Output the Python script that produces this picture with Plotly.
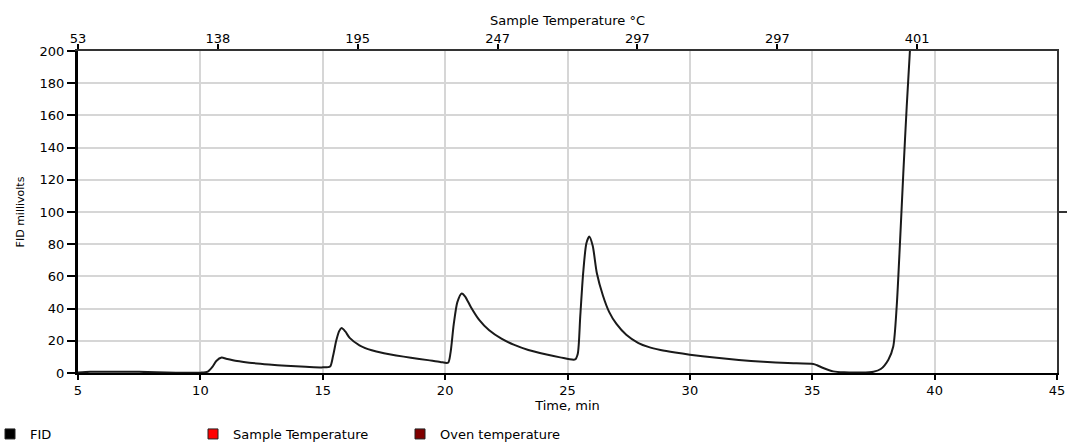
import plotly.graph_objects as go

# FID trace (time in min, signal in millivolts)
time_min = [5.0, 5.5, 6.5, 7.5, 8.2, 9.0, 10.0, 10.3, 10.5, 10.65, 10.87, 11.05, 11.5, 12.0,
            12.8, 13.5, 14.3, 15.0, 15.3, 15.42, 15.55, 15.67, 15.77, 15.92, 16.1, 16.5,
            17.0, 17.5, 18.0, 18.6, 19.3, 19.8, 20.12, 20.22, 20.35, 20.5, 20.68, 20.82,
            21.05, 21.4, 21.8, 22.3, 22.8, 23.4, 24.1, 24.7, 25.31, 25.42, 25.52, 25.64,
            25.77, 25.89, 26.03, 26.2, 26.45, 26.7, 27.0, 27.4, 27.9, 28.3, 28.8, 29.4, 30.0,
            31.0, 32.0, 33.0, 34.0, 35.04, 35.2, 35.45, 35.86, 36.3, 37.0, 37.5, 37.8,
            38.11, 38.31, 38.45, 38.59, 38.72, 38.86, 38.99, 39.03]
fid_mv = [0.3, 0.7, 0.8, 0.7, 0.4, 0.2, 0.2, 0.8, 4.0, 7.5, 9.6, 8.9, 7.4, 6.4,
          5.3, 4.5, 3.9, 3.5, 4.0, 10.5, 20.0, 26.0, 27.9, 25.8, 21.8, 17.2,
          14.1, 12.3, 10.9, 9.5, 8.0, 6.9, 6.4, 12.5, 30.0, 44.0, 49.4, 47.5,
          41.0, 32.8, 26.5, 21.3, 17.6, 14.3, 11.6, 9.7, 8.4, 12.0, 35.0, 62.0,
          80.5, 84.8, 79.0, 62.0, 48.0, 38.0, 30.5, 23.8, 18.6, 16.2, 14.3, 12.7, 11.4,
          9.6, 8.1, 7.0, 6.2, 5.6, 4.8, 3.1, 1.0, 0.4, 0.3, 0.8, 2.5,
          8.3, 16.5, 41.3, 82.7, 124.0, 165.5, 200.0, 212.0]

# axis ticks
x_ticks = [5, 10, 15, 20, 25, 30, 35, 40, 45]
y_ticks = [0, 20, 40, 60, 80, 100, 120, 140, 160, 180, 200]
temp_tick_pos = [5 + k * 40 / 7 for k in range(7)]
temp_tick_labels = ["53", "138", "195", "247", "297", "297", "401"]

legend_names = ["FID", "Sample Temperature", "Oven temperature"]
legend_colors = ["#000000", "#ff0000", "#800000"]
legend_x_px = [-10, 193, 400]

FONT = "DejaVu Sans"
L, R, T, B = 78, 13, 51, 71
W, H = 1070, 444
PW = W - L - R
PH = H - T - B

fig = go.Figure()

fig.add_trace(go.Scatter(
    x=time_min, y=fid_mv, mode="lines",
    line=dict(color="#1a1a1a", width=2, shape="spline", smoothing=0.7),
    showlegend=False, legendgroup="FID", name="FID", hoverinfo="x+y",
))

legend_keys = ["legend", "legend2", "legend3"]
for name, col, key in zip(legend_names, legend_colors, legend_keys):
    fig.add_trace(go.Scatter(
        x=[None], y=[None], xaxis="x2", yaxis="y2", mode="markers",
        marker=dict(symbol="square", size=10, color=col, line=dict(color="#222", width=1)),
        name=name, legend=key, legendgroup=name.split()[0],
    ))

legend_common = dict(orientation="h", yanchor="middle", y=(-(434 - (T + PH)) / PH),
                     xanchor="left", font=dict(family=FONT, size=13, color="#000"),
                     bgcolor="rgba(0,0,0,0)", itemwidth=30, tracegroupgap=0)
legends = {}
for key, xp in zip(legend_keys, legend_x_px):
    legends[key] = dict(x=(xp - L) / PW, **legend_common)

grid = "#d6d6d6"
fig.update_layout(
    width=W, height=H,
    margin=dict(l=L, r=R, t=T, b=B, autoexpand=False),
    paper_bgcolor="white", plot_bgcolor="white",
    font=dict(family=FONT, size=13, color="#000"),
    xaxis=dict(
        range=[5, 45], tickvals=x_ticks, ticks="outside", ticklen=5, tickwidth=1.5,
        tickcolor="#000", showline=True, linecolor="#000", linewidth=1.5,
        showgrid=True, gridcolor=grid, gridwidth=1.5, zeroline=False,
        title=dict(text="Time, min", standoff=4, font=dict(size=13)),
        tickfont=dict(size=13),
    ),
    xaxis2=dict(
        overlaying="x", side="top", range=[5, 45], tickvals=temp_tick_pos,
        ticktext=temp_tick_labels, ticks="outside", ticklen=5, tickwidth=1.5,
        tickcolor="#000", showline=True, linecolor="#333", linewidth=1.5,
        showgrid=False, zeroline=False, ticklabelstandoff=-4,
        title=dict(text="Sample Temperature °C", standoff=2, font=dict(size=13)),
        tickfont=dict(size=13),
    ),
    yaxis=dict(
        range=[0, 200], tickvals=y_ticks, ticks="outside", ticklen=8, tickwidth=1.5,
        tickcolor="#000", showline=True, linecolor="#000", linewidth=3,
        showgrid=True, gridcolor=grid, gridwidth=1.5, zeroline=False,
        title=dict(text="FID millivolts", standoff=13, font=dict(size=11)),
        tickfont=dict(size=13),
    ),
    yaxis2=dict(
        overlaying="y", side="right", range=[0, 200], tickvals=[100],
        ticks="outside", ticklen=8, tickwidth=1.5, tickcolor="#333",
        showticklabels=False, showline=True, linecolor="#333", linewidth=1.5,
        showgrid=False, zeroline=False,
    ),
    **legends,
)

fig.write_html("out.html", config={"displayModeBar": False},
               post_script="document.body.style.margin='0';")
